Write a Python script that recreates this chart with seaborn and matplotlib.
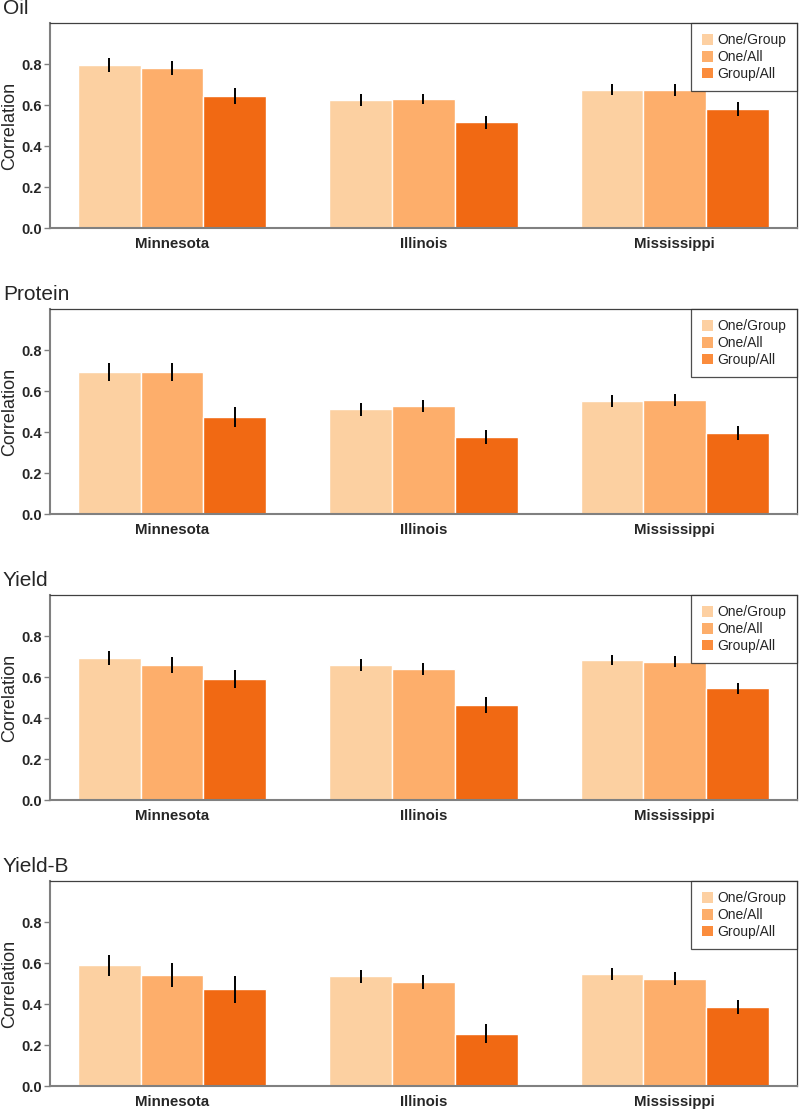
import pandas as pd
import seaborn as sns
import matplotlib.pyplot as plt
from matplotlib.patches import Patch

sns.set_theme(style="white")
plt.rcParams['font.family'] = ['Liberation Sans', 'DejaVu Sans']

states = ['Minnesota', 'Illinois', 'Mississippi']
methods = ['One/Group', 'One/All', 'Group/All']
traits = ['Oil', 'Protein', 'Yield', 'Yield-B']

# rows = methods, columns = states
oil_corr = [[0.795, 0.624, 0.674], [0.782, 0.631, 0.673], [0.645, 0.517, 0.580]]
oil_err = [[0.035, 0.028, 0.027], [0.033, 0.024, 0.028], [0.040, 0.031, 0.033]]
protein_corr = [[0.692, 0.512, 0.551], [0.692, 0.526, 0.557], [0.474, 0.377, 0.395]]
protein_err = [[0.044, 0.031, 0.028], [0.044, 0.030, 0.028], [0.050, 0.034, 0.034]]
yield_corr = [[0.692, 0.658, 0.682], [0.659, 0.638, 0.675], [0.591, 0.464, 0.545]]
yield_err = [[0.033, 0.028, 0.024], [0.038, 0.030, 0.026], [0.043, 0.037, 0.028]]
yieldb_corr = [[0.589, 0.535, 0.546], [0.541, 0.507, 0.525], [0.472, 0.256, 0.387]]
yieldb_err = [[0.052, 0.032, 0.029], [0.059, 0.033, 0.031], [0.066, 0.046, 0.033]]

all_corr = [oil_corr, protein_corr, yield_corr, yieldb_corr]
all_err = [oil_err, protein_err, yield_err, yieldb_err]

bar_colors = ['#FCD0A1', '#FDAE6B', '#F16913']
legend_colors = ['#FDD0A2', '#FDAE6B', '#FB8C3C']

fig = plt.figure(figsize=(7.99, 11.1), dpi=100)
H = 1110.0
for k, trait in enumerate(traits):
    top = 23 + 286 * k
    bottom = 228.3 + 286 * k
    ax = fig.add_axes([50 / 799, 1 - bottom / H, 747 / 799, (bottom - top) / H])

    rows = []
    for m, method in enumerate(methods):
        for s, state in enumerate(states):
            rows.append({'state': state, 'method': method,
                         'corr': all_corr[k][m][s], 'err': all_err[k][m][s]})
    df = pd.DataFrame(rows)

    sns.barplot(data=df, x='state', y='corr', hue='method', order=states,
                hue_order=methods, palette=bar_colors, errorbar=None,
                width=0.75, edgecolor='white', linewidth=1, saturation=1,
                legend=False, ax=ax)

    bar_groups = list(ax.containers)
    for m, cont in enumerate(bar_groups):
        xs = [b.get_x() + b.get_width() / 2 for b in cont]
        ys = [b.get_height() for b in cont]
        ax.errorbar(xs, ys, yerr=all_err[k][m], fmt='none', ecolor='black',
                    elinewidth=1.4, capsize=0)

    ax.set_ylim(0, 1.0)
    ax.set_xlim(-0.485, 2.486)
    ax.set_yticks([0.0, 0.2, 0.4, 0.6, 0.8])
    ax.set_yticklabels(['0.0', '0.2', '0.4', '0.6', '0.8'], fontweight='bold', fontsize=10.5)
    for lab in ax.get_xticklabels():
        lab.set_fontweight('bold')
        lab.set_fontsize(10.8)
    ax.tick_params(axis='x', length=0, pad=6)
    ax.tick_params(axis='y', length=4, width=1, color='#808080', pad=2, left=True)
    ax.set_xlabel('')
    ax.set_ylabel('Correlation', fontsize=13, labelpad=2)

    for side in ['left', 'bottom']:
        ax.spines[side].set_color('#808080')
        ax.spines[side].set_linewidth(1.5)
    for side in ['top', 'right']:
        ax.spines[side].set_color('#404040')
        ax.spines[side].set_linewidth(0.9)

    ax.text(-0.063, 1.024, trait, transform=ax.transAxes, ha='left',
            va='bottom', fontsize=15)

    handles = [Patch(facecolor=c, edgecolor='none') for c in legend_colors]
    leg = ax.legend(handles, methods, loc='upper right', borderaxespad=0,
                    fontsize=10, frameon=True, fancybox=False,
                    handlelength=0.8, handleheight=0.8, handletextpad=0.35,
                    labelspacing=0.2, borderpad=0.75)
    leg.get_frame().set_edgecolor('#222222')
    leg.get_frame().set_linewidth(0.9)

fig.savefig('out.png', dpi=100)
